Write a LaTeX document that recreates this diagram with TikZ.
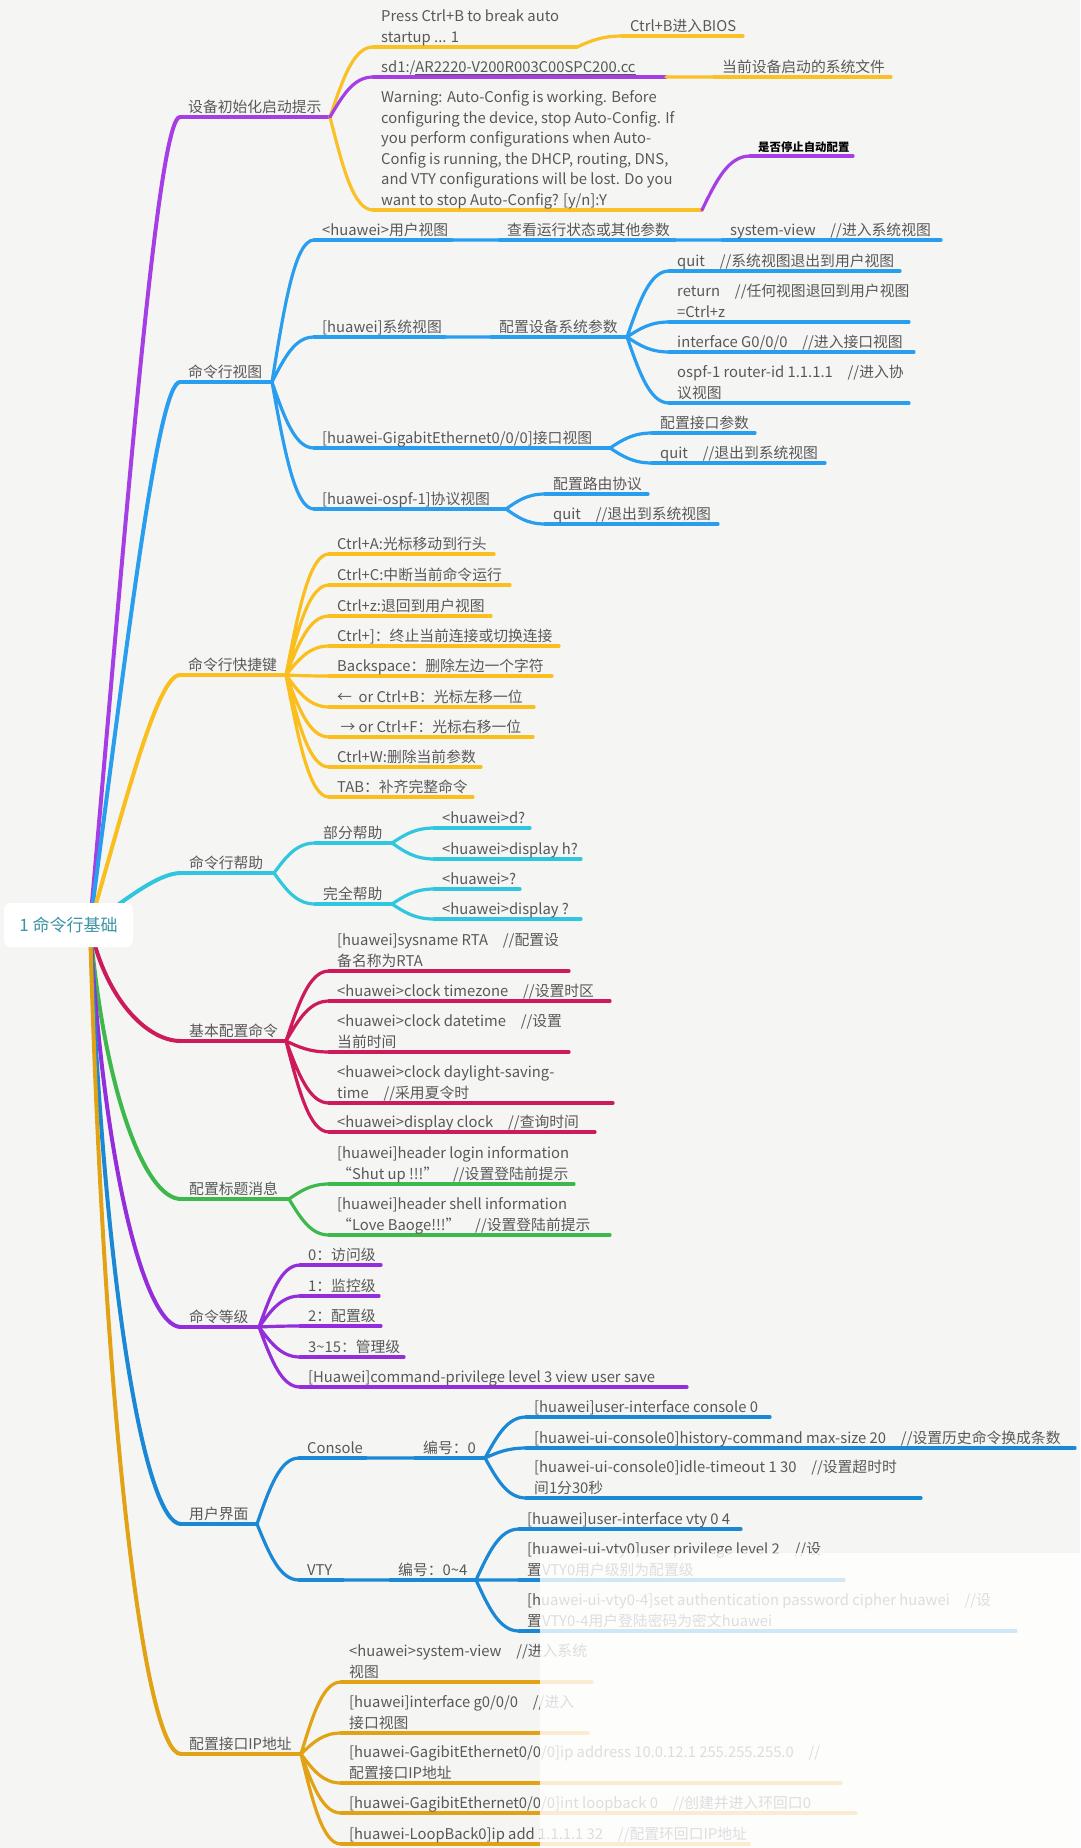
\documentclass[tikz,border=0pt]{standalone}
\usepackage{fontspec}
\setmainfont{Noto Sans CJK SC}
\usepackage{tikz}
\usetikzlibrary{calc}
\definecolor{bgc}{RGB}{245,246,244}
\definecolor{inkgray}{RGB}{88,88,88}
\definecolor{rootteal}{RGB}{62,146,165}
\definecolor{bootpurple}{RGB}{165,62,228}
\definecolor{bootyellow}{RGB}{250,192,40}
\definecolor{viewblue}{RGB}{42,158,238}
\definecolor{keyyellow}{RGB}{250,190,30}
\definecolor{helpcyan}{RGB}{48,198,222}
\definecolor{basecrimson}{RGB}{205,26,90}
\definecolor{bannergreen}{RGB}{62,184,76}
\definecolor{levelviolet}{RGB}{148,46,218}
\definecolor{uiblue}{RGB}{26,136,212}
\definecolor{ipgold}{RGB}{226,162,22}
\tikzset{
  txt/.style={anchor=south west, inner sep=0pt, align=left, text=inkgray, font=\fontsize{14.8}{20.5}\selectfont},
  rootbox/.style={rectangle, rounded corners=7pt, fill=white, minimum width=129pt, minimum height=44pt, inner sep=0pt, text=rootteal, font=\fontsize{17}{20}\selectfont},
  stem/.style={line width=4pt, line cap=round, draw=#1},
  bar/.style={line width=3.2pt, line cap=round, draw=#1},
  link/.style={to path={let \p1=(\tikztostart), \p2=(\tikztotarget) in
    .. controls ({\x1+0.3*(\x2-\x1)},{\y1+0.55*(\y2-\y1)}) and ({\x2-0.45*(\x2-\x1)},\y2) .. (\tikztotarget)}},
  trunkup/.style={to path={let \p1=(\tikztostart), \p2=(\tikztotarget) in
    .. controls ({\x1+0.4*(\x2-\x1)},{\y1+0.5*(\y2-\y1)}) and ({\x2-0.25*(\x2-\x1)},\y2) .. (\tikztotarget)}},
  trunkdown/.style={to path={let \p1=(\tikztostart), \p2=(\tikztotarget) in
    .. controls ({\x1+0.15*(\x2-\x1)},{\y1+0.6*(\y2-\y1)}) and ({\x2-0.4*(\x2-\x1)},\y2) .. (\tikztotarget)}}
}
% name, line style, text x, line end x, line y, text
\newcommand{\twig}[6]{%
  \coordinate (#1-l) at ({#3-8},#5);
  \coordinate (#1-r) at (#4,#5);
  \draw[#2] (#1-l) -- (#1-r);
  \node[txt] (#1) at ([yshift=-1.5pt]#3,#5) {#6\strut};
}

\begin{document}
\begin{tikzpicture}[x=1pt,y=-1pt]
  \useasboundingbox (0,0) rectangle (1080,1848);
  \fill[bgc] (0,0) rectangle (1080,1848);
  \coordinate (hub) at (90,925);

  % boot prompt
  \twig{t1}{stem=bootpurple}{188}{330}{117}{设备初始化启动提示}
  \twig{t1a}{bar=bootyellow}{381}{577}{47}{Press Ctrl+B to break auto\\startup ... 1}
  \twig{t1a1}{bar=bootyellow}{630}{743}{36}{Ctrl+B进入BIOS}
  \twig{t1b}{bar=bootpurple}{381}{666}{77}{sd1:/\underline{AR2220-V200R003C00SPC200.cc}}
  \twig{t1b1}{bar=bootyellow}{722}{891}{77}{当前设备启动的系统文件}
  \twig{t1c}{bar=bootyellow}{381}{702}{210}{Warning: Auto-Config is working. Before\\configuring the device, stop Auto-Config. If\\you perform configurations when Auto-\\Config is running, the DHCP, routing, DNS,\\and VTY configurations will be lost. Do you\\want to stop Auto-Config? [y/n]:Y}
  \twig{t1c1}{bar=bootpurple}{758}{853}{156}{{\fontsize{11.4}{14}\selectfont\bfseries\color{black}是否停止自动配置}}
  \draw[stem=bootpurple, trunkup] (hub) to (t1-l);
  \draw[bar=bootyellow, link] (t1-r) to (t1a-l) (t1-r) to (t1c-l) (t1a-r) to (t1a1-l) (t1b-r) to (t1b1-l);
  \draw[bar=bootpurple, link] (t1-r) to (t1b-l) (t1c-r) to (t1c1-l);

  % command views
  \twig{t2}{stem=viewblue}{188}{272}{382}{命令行视图}
  \twig{t2a}{bar=viewblue}{322}{452}{240}{<huawei>用户视图}
  \twig{t2a1}{bar=viewblue}{507}{675}{240}{查看运行状态或其他参数}
  \twig{t2a2}{bar=viewblue}{730}{941}{240}{system-view\quad//进入系统视图}
  \twig{t2b}{bar=viewblue}{322}{445}{337}{[huawei]系统视图}
  \twig{t2b1}{bar=viewblue}{499}{627}{337}{配置设备系统参数}
  \twig{t2b1a}{bar=viewblue}{677}{900}{271}{quit\quad//系统视图退出到用户视图}
  \twig{t2b1b}{bar=viewblue}{677}{909}{322}{return\quad//任何视图退回到用户视图\\=Ctrl+z}
  \twig{t2b1c}{bar=viewblue}{677}{914}{352}{interface G0/0/0\quad//进入接口视图}
  \twig{t2b1d}{bar=viewblue}{677}{909}{403}{ospf-1 router-id 1.1.1.1\quad//进入协\\议视图}
  \twig{t2c}{bar=viewblue}{322}{610}{448}{[huawei-GigabitEthernet0/0/0]接口视图}
  \twig{t2c1}{bar=viewblue}{660}{755}{433}{配置接口参数}
  \twig{t2c2}{bar=viewblue}{660}{825}{463}{quit\quad//退出到系统视图}
  \twig{t2d}{bar=viewblue}{322}{506}{509}{[huawei-ospf-1]协议视图}
  \twig{t2d1}{bar=viewblue}{553}{648}{494}{配置路由协议}
  \twig{t2d2}{bar=viewblue}{553}{718}{524}{quit\quad//退出到系统视图}
  \draw[stem=viewblue, trunkup] (hub) to (t2-l);
  \draw[bar=viewblue, link] (t2-r) to (t2a-l) (t2-r) to (t2b-l) (t2-r) to (t2c-l) (t2-r) to (t2d-l)
    (t2a-r) to (t2a1-l) (t2a1-r) to (t2a2-l) (t2b-r) to (t2b1-l)
    (t2b1-r) to (t2b1a-l) (t2b1-r) to (t2b1b-l) (t2b1-r) to (t2b1c-l) (t2b1-r) to (t2b1d-l)
    (t2c-r) to (t2c1-l) (t2c-r) to (t2c2-l) (t2d-r) to (t2d1-l) (t2d-r) to (t2d2-l);

  % shortcut keys
  \twig{t3}{stem=keyyellow}{188}{286}{675}{命令行快捷键}
  \twig{s1}{bar=keyyellow}{337}{494}{554}{Ctrl+A:光标移动到行头}
  \twig{s2}{bar=keyyellow}{337}{510}{585}{Ctrl+C:中断当前命令运行}
  \twig{s3}{bar=keyyellow}{337}{491}{616}{Ctrl+z:退回到用户视图}
  \twig{s4}{bar=keyyellow}{337}{559}{646}{Ctrl+]：终止当前连接或切换连接}
  \twig{s5}{bar=keyyellow}{337}{552}{676}{Backspace：删除左边一个字符}
  \twig{s6}{bar=keyyellow}{337}{534}{707}{←~~or Ctrl+B：光标左移一位}
  \twig{s7}{bar=keyyellow}{337}{533}{737}{~→ or Ctrl+F：光标右移一位}
  \twig{s8}{bar=keyyellow}{337}{481}{767}{Ctrl+W:删除当前参数}
  \twig{s9}{bar=keyyellow}{337}{473}{797}{TAB：补齐完整命令}
  \draw[stem=keyyellow, trunkup] (hub) to (t3-l);
  \draw[bar=keyyellow, link] (t3-r) to (s1-l) (t3-r) to (s2-l) (t3-r) to (s3-l) (t3-r) to (s4-l)
    (t3-r) to (s5-l) (t3-r) to (s6-l) (t3-r) to (s7-l) (t3-r) to (s8-l) (t3-r) to (s9-l);

  % help
  \twig{t4}{stem=helpcyan}{189}{274}{873}{命令行帮助}
  \twig{t4a}{bar=helpcyan}{323}{392}{843}{部分帮助}
  \twig{t4a1}{bar=helpcyan}{442}{530}{828}{<huawei>d?}
  \twig{t4a2}{bar=helpcyan}{442}{581}{859}{<huawei>display h?}
  \twig{t4b}{bar=helpcyan}{323}{392}{904}{完全帮助}
  \twig{t4b1}{bar=helpcyan}{442}{520}{889}{<huawei>?}
  \twig{t4b2}{bar=helpcyan}{442}{581}{919}{<huawei>display ?}
  \draw[stem=helpcyan, trunkup] (hub) to (t4-l);
  \draw[bar=helpcyan, link] (t4-r) to (t4a-l) (t4-r) to (t4b-l) (t4a-r) to (t4a1-l) (t4a-r) to (t4a2-l)
    (t4b-r) to (t4b1-l) (t4b-r) to (t4b2-l);

  % basic configuration
  \twig{t5}{stem=basecrimson}{189}{286}{1041}{基本配置命令}
  \twig{t5a}{bar=basecrimson}{337}{569}{971}{[huawei]sysname RTA\quad//配置设\\备名称为RTA}
  \twig{t5b}{bar=basecrimson}{337}{610}{1001}{<huawei>clock timezone\quad//设置时区}
  \twig{t5c}{bar=basecrimson}{337}{569}{1052}{<huawei>clock datetime\quad//设置\\当前时间}
  \twig{t5d}{bar=basecrimson}{337}{613}{1103}{<huawei>clock daylight-saving-\\time\quad//采用夏令时}
  \twig{t5e}{bar=basecrimson}{337}{595}{1132}{<huawei>display clock\quad//查询时间}
  \draw[stem=basecrimson, trunkdown] (hub) to (t5-l);
  \draw[bar=basecrimson, link] (t5-r) to (t5a-l) (t5-r) to (t5b-l) (t5-r) to (t5c-l) (t5-r) to (t5d-l) (t5-r) to (t5e-l);

  % banner
  \twig{t6}{stem=bannergreen}{189}{289}{1199}{配置标题消息}
  \twig{t6a}{bar=bannergreen}{337}{574}{1184}{[huawei]header login information\\“Shut up !!!”\quad//设置登陆前提示}
  \twig{t6b}{bar=bannergreen}{337}{610}{1235}{[huawei]header shell information\\“Love Baoge!!!”\quad//设置登陆前提示}
  \draw[stem=bannergreen, trunkdown] (hub) to (t6-l);
  \draw[bar=bannergreen, link] (t6-r) to (t6a-l) (t6-r) to (t6b-l);

  % privilege levels
  \twig{t7}{stem=levelviolet}{189}{259}{1327}{命令等级}
  \twig{t7a}{bar=levelviolet}{308}{381}{1265}{0：访问级}
  \twig{t7b}{bar=levelviolet}{308}{379}{1296}{1：监控级}
  \twig{t7c}{bar=levelviolet}{308}{381}{1326}{2：配置级}
  \twig{t7d}{bar=levelviolet}{308}{404}{1357}{3\textasciitilde15：管理级}
  \twig{t7e}{bar=levelviolet}{308}{687}{1387}{[Huawei]command-privilege level 3 view user save}
  \draw[stem=levelviolet, trunkdown] (hub) to (t7-l);
  \draw[bar=levelviolet, link] (t7-r) to (t7a-l) (t7-r) to (t7b-l) (t7-r) to (t7c-l) (t7-r) to (t7d-l) (t7-r) to (t7e-l);

  % user interface
  \twig{t8}{stem=uiblue}{189}{257}{1524}{用户界面}
  \twig{t8a}{bar=uiblue}{307}{366}{1458}{Console}
  \twig{t8a1}{bar=uiblue}{423}{485}{1458}{编号：0}
  \twig{t8a1a}{bar=uiblue}{534}{770}{1417}{[huawei]user-interface console 0}
  \twig{t8a1b}{bar=uiblue}{534}{1075}{1448}{[huawei-ui-console0]history-command max-size 20\quad//设置历史命令换成条数}
  \twig{t8a1c}{bar=uiblue}{534}{921}{1498}{[huawei-ui-console0]idle-timeout 1 30\quad//设置超时时\\间1分30秒}
  \twig{t8b}{bar=uiblue}{307}{343}{1580}{VTY}
  \twig{t8b1}{bar=uiblue}{398}{476}{1580}{编号：0\textasciitilde4}
  \twig{t8b1a}{bar=uiblue}{527}{741}{1529}{[huawei]user-interface vty 0 4}
  \twig{t8b1b}{bar=uiblue}{527}{844}{1580}{[huawei-ui-vty0]user privilege level 2\quad//设\\置VTY0用户级别为配置级}
  \twig{t8b1c}{bar=uiblue}{527}{1016}{1631}{[huawei-ui-vty0-4]set authentication password cipher huawei\quad//设\\置VTY0-4用户登陆密码为密文huawei}
  \draw[stem=uiblue, trunkdown] (hub) to (t8-l);
  \draw[bar=uiblue, link] (t8-r) to (t8a-l) (t8-r) to (t8b-l) (t8a-r) to (t8a1-l) (t8b-r) to (t8b1-l)
    (t8a1-r) to (t8a1a-l) (t8a1-r) to (t8a1b-l) (t8a1-r) to (t8a1c-l)
    (t8b1-r) to (t8b1a-l) (t8b1-r) to (t8b1b-l) (t8b1-r) to (t8b1c-l);

  % interface address
  \twig{t9}{stem=ipgold}{189}{301}{1754}{配置接口IP地址}
  \twig{t9a}{bar=ipgold}{349}{592}{1682}{<huawei>system-view\quad//进入系统\\视图}
  \twig{t9b}{bar=ipgold}{349}{588}{1733}{[huawei]interface g0/0/0\quad//进入\\接口视图}
  \twig{t9c}{bar=ipgold}{349}{841}{1783}{[huawei-GagibitEthernet0/0/0]ip address 10.0.12.1 255.255.255.0\quad//\\配置接口IP地址}
  \twig{t9d}{bar=ipgold}{349}{856}{1813}{[huawei-GagibitEthernet0/0/0]int loopback 0\quad//创建并进入环回口0}
  \twig{t9e}{bar=ipgold}{349}{749}{1844}{[huawei-LoopBack0]ip add 1.1.1.1 32\quad//配置环回口IP地址}
  \draw[stem=ipgold, trunkdown] (hub) to (t9-l);
  \draw[bar=ipgold, link] (t9-r) to (t9a-l) (t9-r) to (t9b-l) (t9-r) to (t9c-l) (t9-r) to (t9d-l) (t9-r) to (t9e-l);

  % root on top of the trunks
  \node[rootbox] (root) at (68.5,925) {1 命令行基础};

  % pale patch over the lower right
  \fill[white, opacity=0.8] (540,1553) rectangle (1080,1848);
\end{tikzpicture}
\end{document}
